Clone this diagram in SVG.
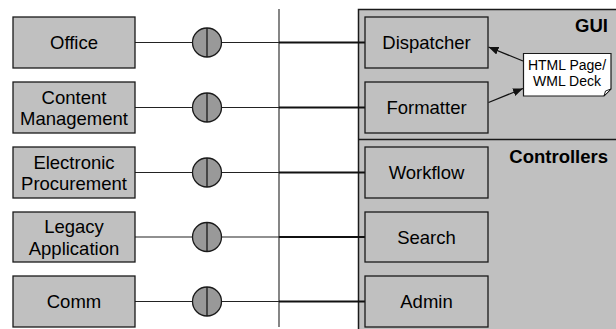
<svg xmlns="http://www.w3.org/2000/svg" width="616" height="329" viewBox="0 0 616 329">
<style>
text{font-family:"Liberation Sans",Arial,sans-serif;font-size:18.5px;fill:#000;text-anchor:middle}
.box{fill:#c0c0c0;stroke:#1a1a1a;stroke-width:1.3}
.panel{fill:#c0c0c0;stroke:#1a1a1a;stroke-width:1.5}
.iface{fill:#999;stroke:#1a1a1a;stroke-width:1.3}
.bar{stroke:#1a1a1a;stroke-width:1.3}
.wire{stroke:#222;stroke-width:1.2;fill:none}
.wire2{stroke:#111;stroke-width:1.8;fill:none}
.bold{font-weight:bold;text-anchor:end}
.note{fill:#fff;stroke:#1a1a1a;stroke-width:1.2}
.small{font-size:14px}
.arrow{stroke:#111;stroke-width:1.3;fill:none;marker-end:url(#ah)}
</style>
<defs>
<marker id="ah" viewBox="0 0 10 8" refX="10" refY="4" markerWidth="10" markerHeight="8" markerUnits="userSpaceOnUse" orient="auto">
<path d="M0,0 L10,4 L0,8 z" fill="#111"/>
</marker>
</defs>
<g id="server-panel">
<rect class="panel" x="358.5" y="9.5" width="270" height="330"/>
<line x1="358.5" y1="139.5" x2="616" y2="139.5" stroke="#1a1a1a" stroke-width="1.5"/>
<text class="bold" x="608" y="32">GUI</text>
<text class="bold" x="608" y="162.5">Controllers</text>
</g>
<g id="connectors">
<line x1="279" y1="9" x2="279" y2="327" stroke="#444" stroke-width="1.3"/>
<line class="wire" x1="135" y1="42.5" x2="192.5" y2="42.5"/>
<line class="wire" x1="221.5" y1="42.5" x2="279" y2="42.5"/>
<line class="wire2" x1="279" y1="42.5" x2="365" y2="42.5"/>
<line class="wire" x1="135" y1="107.5" x2="192.5" y2="107.5"/>
<line class="wire" x1="221.5" y1="107.5" x2="279" y2="107.5"/>
<line class="wire2" x1="279" y1="107.5" x2="365" y2="107.5"/>
<line class="wire" x1="135" y1="172.5" x2="192.5" y2="172.5"/>
<line class="wire" x1="221.5" y1="172.5" x2="279" y2="172.5"/>
<line class="wire2" x1="279" y1="172.5" x2="365" y2="172.5"/>
<line class="wire" x1="135" y1="237" x2="192.5" y2="237"/>
<line class="wire" x1="221.5" y1="237" x2="279" y2="237"/>
<line class="wire2" x1="279" y1="237" x2="365" y2="237"/>
<line class="wire" x1="135" y1="301.5" x2="192.5" y2="301.5"/>
<line class="wire" x1="221.5" y1="301.5" x2="279" y2="301.5"/>
<line class="wire2" x1="279" y1="301.5" x2="365" y2="301.5"/>
<line class="arrow" x1="523" y1="61" x2="488.5" y2="47"/>
<line class="arrow" x1="488.5" y1="102.5" x2="523" y2="88.5"/>
</g>
<g id="office">
<rect class="box" x="13" y="17" width="122" height="51"/>
<text x="74" y="49">Office</text>
</g>
<g id="content-management">
<rect class="box" x="13" y="82" width="122" height="51"/>
<text x="74" y="103.5">Content</text>
<text x="74" y="124.5">Management</text>
</g>
<g id="electronic-procurement">
<rect class="box" x="13" y="147" width="122" height="51"/>
<text x="74" y="168.5">Electronic</text>
<text x="74" y="189.5">Procurement</text>
</g>
<g id="legacy-application">
<rect class="box" x="13" y="212" width="122" height="50"/>
<text x="74" y="233">Legacy</text>
<text x="74" y="254.5">Application</text>
</g>
<g id="comm">
<rect class="box" x="13" y="276" width="122" height="51"/>
<text x="74" y="308">Comm</text>
</g>
<g id="iface-1"><circle class="iface" cx="207" cy="42.5" r="14.5"/><line class="bar" x1="207" y1="28" x2="207" y2="57"/></g>
<g id="iface-2"><circle class="iface" cx="207" cy="107.5" r="14.5"/><line class="bar" x1="207" y1="93" x2="207" y2="122"/></g>
<g id="iface-3"><circle class="iface" cx="207" cy="172.5" r="14.5"/><line class="bar" x1="207" y1="158" x2="207" y2="187"/></g>
<g id="iface-4"><circle class="iface" cx="207" cy="237" r="14.5"/><line class="bar" x1="207" y1="222.5" x2="207" y2="251.5"/></g>
<g id="iface-5"><circle class="iface" cx="207" cy="301.5" r="14.5"/><line class="bar" x1="207" y1="287" x2="207" y2="316"/></g>
<g id="dispatcher">
<rect class="box" x="365" y="17" width="123" height="51"/>
<text x="426.5" y="49">Dispatcher</text>
</g>
<g id="formatter">
<rect class="box" x="365" y="82" width="123" height="51"/>
<text x="426.5" y="114">Formatter</text>
</g>
<g id="workflow">
<rect class="box" x="365" y="147" width="123" height="51"/>
<text x="426.5" y="178.5">Workflow</text>
</g>
<g id="search">
<rect class="box" x="365" y="212" width="123" height="50"/>
<text x="426.5" y="243.5">Search</text>
</g>
<g id="admin">
<rect class="box" x="365" y="276" width="123" height="51"/>
<text x="426.5" y="308">Admin</text>
</g>
<g id="html-page">
<path class="note" d="M523.5,53.5 H611 V89 L604,96 H523.5 Z"/>
<path d="M611,89 L604,96 L605.5,91 Z" fill="#fff" stroke="#1a1a1a" stroke-width="1"/>
<text class="small" x="567" y="69.5">HTML Page/</text>
<text class="small" x="567" y="85.5">WML Deck</text>
</g>
</svg>
